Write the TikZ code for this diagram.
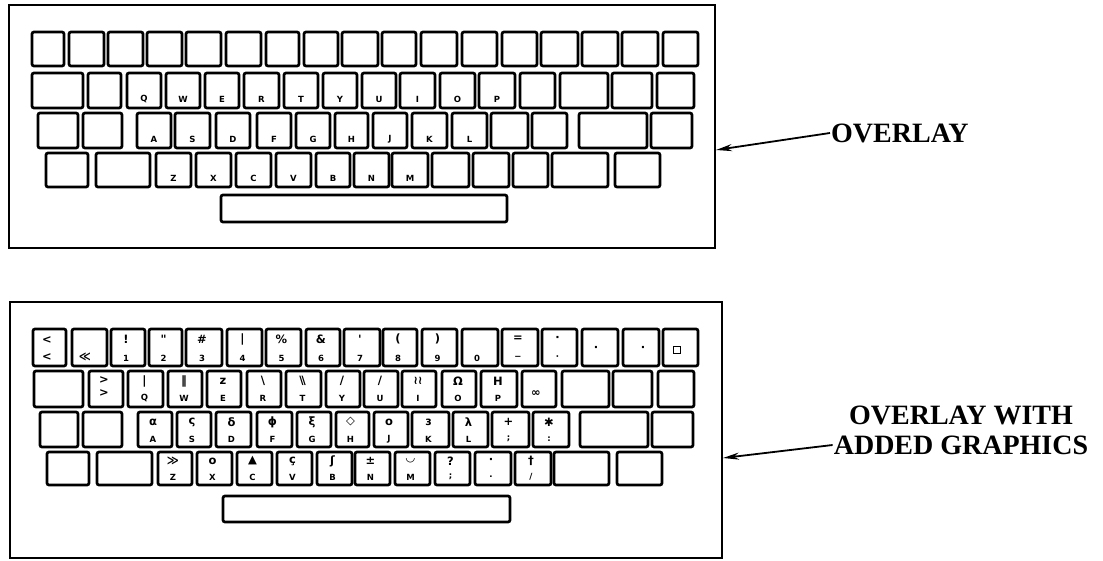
\documentclass[tikz,border=0pt]{standalone}
\usepackage{fontspec}
\setmainfont{Liberation Serif}
\newfontfamily\keyfont{DejaVu Sans}
\usetikzlibrary{arrows.meta,positioning}

\begin{document}
\begin{tikzpicture}[
      x=1pt, y=-1pt,
      frame/.style={draw, line width=1.7pt, inner sep=0pt},
      key/.style={draw, line width=2.7pt, rounded corners=2pt},
      keytxt/.style={font=\keyfont\bfseries\fontsize{8.5}{9}\selectfont, inner sep=0pt},
      sym/.style={font=\keyfont\bfseries\fontsize{11.5}{12}\selectfont, inner sep=0pt},
      caption/.style={font=\bfseries\fontsize{28}{30}\selectfont, inner sep=1pt},
      pointer/.style={line width=1.8pt, -{Stealth[length=16pt,width=7pt,inset=5pt]}}
    ]
    \useasboundingbox (0,0) rectangle (1103,561);
    % Plain overlay
    \node[frame, minimum width=706, minimum height=243] (ovl) at (362,126.5) {};
    \foreach \l/\r in {32/64,69/104,108/143,147/182,186/221,226/261,266/299,304/338,342/378,
                       382/416,421/457,462/497,502/537,541/578,582/618,622/658,663/698}
      \draw[key] (\l,32) rectangle (\r,66);
    \foreach \l/\r in {32/83,88/121,520/555,560/608,612/652,657/694}
      \draw[key] (\l,73) rectangle (\r,108);
    \foreach \l/\r/\c [count=\n] in {127/161/Q,166/200/W,205/239/E,244/279/R,284/318/T,
                                     323/357/Y,362/396/U,400/435/I,440/475/O,479/515/P}
      {\draw[key] (\l,73) rectangle (\r,108);
       \node[keytxt] (ta\n) at ({(\l+\r)/2},99) {\c};}
    \foreach \l/\r in {38/78,83/122,491/528,532/567,579/647,651/692}
      \draw[key] (\l,113) rectangle (\r,148);
    \foreach \l/\r/\c [count=\n] in {137/171/A,175/210/S,216/250/D,257/291/F,296/330/G,
                                     335/368/H,373/407/J,412/447/K,452/487/L}
      {\draw[key] (\l,113) rectangle (\r,148);
       \node[keytxt] (tb\n) at ({(\l+\r)/2},139) {\c};}
    \foreach \l/\r in {46/88,96/150,432/469,473/509,513/548,552/608,615/660}
      \draw[key] (\l,153) rectangle (\r,187);
    \foreach \l/\r/\c [count=\n] in {156/191/Z,196/231/X,236/271/C,276/311/V,316/350/B,
                                     354/389/N,392/428/M}
      {\draw[key] (\l,153) rectangle (\r,187);
       \node[keytxt] (tc\n) at ({(\l+\r)/2},178) {\c};}
    \draw[key] (221,195) rectangle (507,222);

    % Overlay with added graphics
    \node[frame, minimum width=712, minimum height=256] (ovlg) at (366,430) {};
    % number row
    \draw[key] (33,329) rectangle (66,366);
    \node[sym] (ga1) at (47,340) {<};
    \node[sym] (ga2) at (47,357) {<};
    \draw[key] (72,329) rectangle (107,366);
    \node[sym] (ga3) at (85,357) {≪};
    \foreach \l/\r/\u/\d [count=\n] in {111/145/!/1,149/182/"/2,186/222/\#/3,227/262/|/4,
                                        266/301/\%/5,306/340/\&/6,344/380/'/7,383/417/(/8,
                                        422/457/)/9,502/538/=/−,542/577/·/·}
      {\draw[key] (\l,329) rectangle (\r,366);
       \node[sym] (gu\n) at ({(\l+\r)/2-2},339) {\u};
       \node[keytxt] (gd\n) at ({(\l+\r)/2-2},358) {\d};}
    \draw[key] (462,329) rectangle (498,366);
    \node[keytxt] (g0) at (477,358) {0};
    \draw[key] (582,329) rectangle (618,366);
    \node[sym] (gdot1) at (596,349) {·};
    \draw[key] (623,329) rectangle (659,366);
    \node[sym] (gdot2) at (643,349) {·};
    \draw[key] (663,329) rectangle (698,366);
    \node[draw, line width=1.8pt, minimum size=7, inner sep=0pt] (gsq) at (677,350) {};
    % top letter row
    \foreach \l/\r in {34/83,562/609,613/652,658/694}
      \draw[key] (\l,371) rectangle (\r,407);
    \draw[key] (89,371) rectangle (123,407);
    \node[sym] (gb1) at (104,380) {>};
    \node[sym] (gb2) at (104,393) {>};
    \foreach \l/\r/\u/\d [count=\n] in {128/163/|/Q,168/202/‖/W,207/241/z/E,
                                        247/281/\textbackslash/R,
                                        286/321/\textbackslash\kern-2pt\textbackslash/T,
                                        326/360/{/}/Y,364/398/{/}/U,402/436/≀≀/I,
                                        442/476/Ω/O,481/517/H/P}
      {\draw[key] (\l,371) rectangle (\r,407);
       \node[sym] (hu\n) at ({(\l+\r)/2-1},381) {\u};
       \node[keytxt] (hd\n) at ({(\l+\r)/2-1},398) {\d};}
    \draw[key] (522,371) rectangle (556,407);
    \node[sym] (ginf) at (536,394) {∞};
    % home row
    \foreach \l/\r in {40/78,83/122,580/648,652/693}
      \draw[key] (\l,412) rectangle (\r,447);
    \foreach \l/\r/\u/\d [count=\n] in {138/172/α/A,177/211/ς/S,216/251/δ/D,257/292/ϕ/F,
                                        297/331/ξ/G,336/369/◇/H,374/408/o/J,412/449/ɜ/K,
                                        453/488/λ/L,492/529/+/{;},533/569/✱/:}
      {\draw[key] (\l,412) rectangle (\r,447);
       \node[sym] (ju\n) at ({(\l+\r)/2-2},422) {\u};
       \node[keytxt] (jd\n) at ({(\l+\r)/2-2},439) {\d};}
    % bottom letter row
    \foreach \l/\r in {47/89,97/152,554/609,617/662}
      \draw[key] (\l,452) rectangle (\r,485);
    \foreach \l/\r/\u/\d [count=\n] in {158/192/≫/Z,197/232/o/X,237/272/▲/C,277/312/ç/V,
                                        317/352/ʃ/B,355/390/±/N,395/430/{\mdseries ◡}/M,
                                        435/470/?/{;},475/511/·/.,515/551/†/{/}}
      {\draw[key] (\l,452) rectangle (\r,485);
       \node[sym] (ku\n) at ({(\l+\r)/2-2},461) {\u};
       \node[keytxt] (kd\n) at ({(\l+\r)/2-2},477) {\d};}
    \draw[key] (223,496) rectangle (510,522);

    % Captions with arrows
    \node[caption, anchor=west] (capA) at (830,133) {OVERLAY};
    \node[caption] (capB1) at (961,415) {OVERLAY WITH};
    \node[caption] (capB2) at (961,445) {ADDED GRAPHICS};
    \coordinate (tipA) at (716,150);
    \coordinate (tipB) at (723,458);
    \draw[pointer] (capA.west) -- (tipA);
    \draw[pointer] (capB2.west) -- (tipB);
  \end{tikzpicture}
\end{document}
